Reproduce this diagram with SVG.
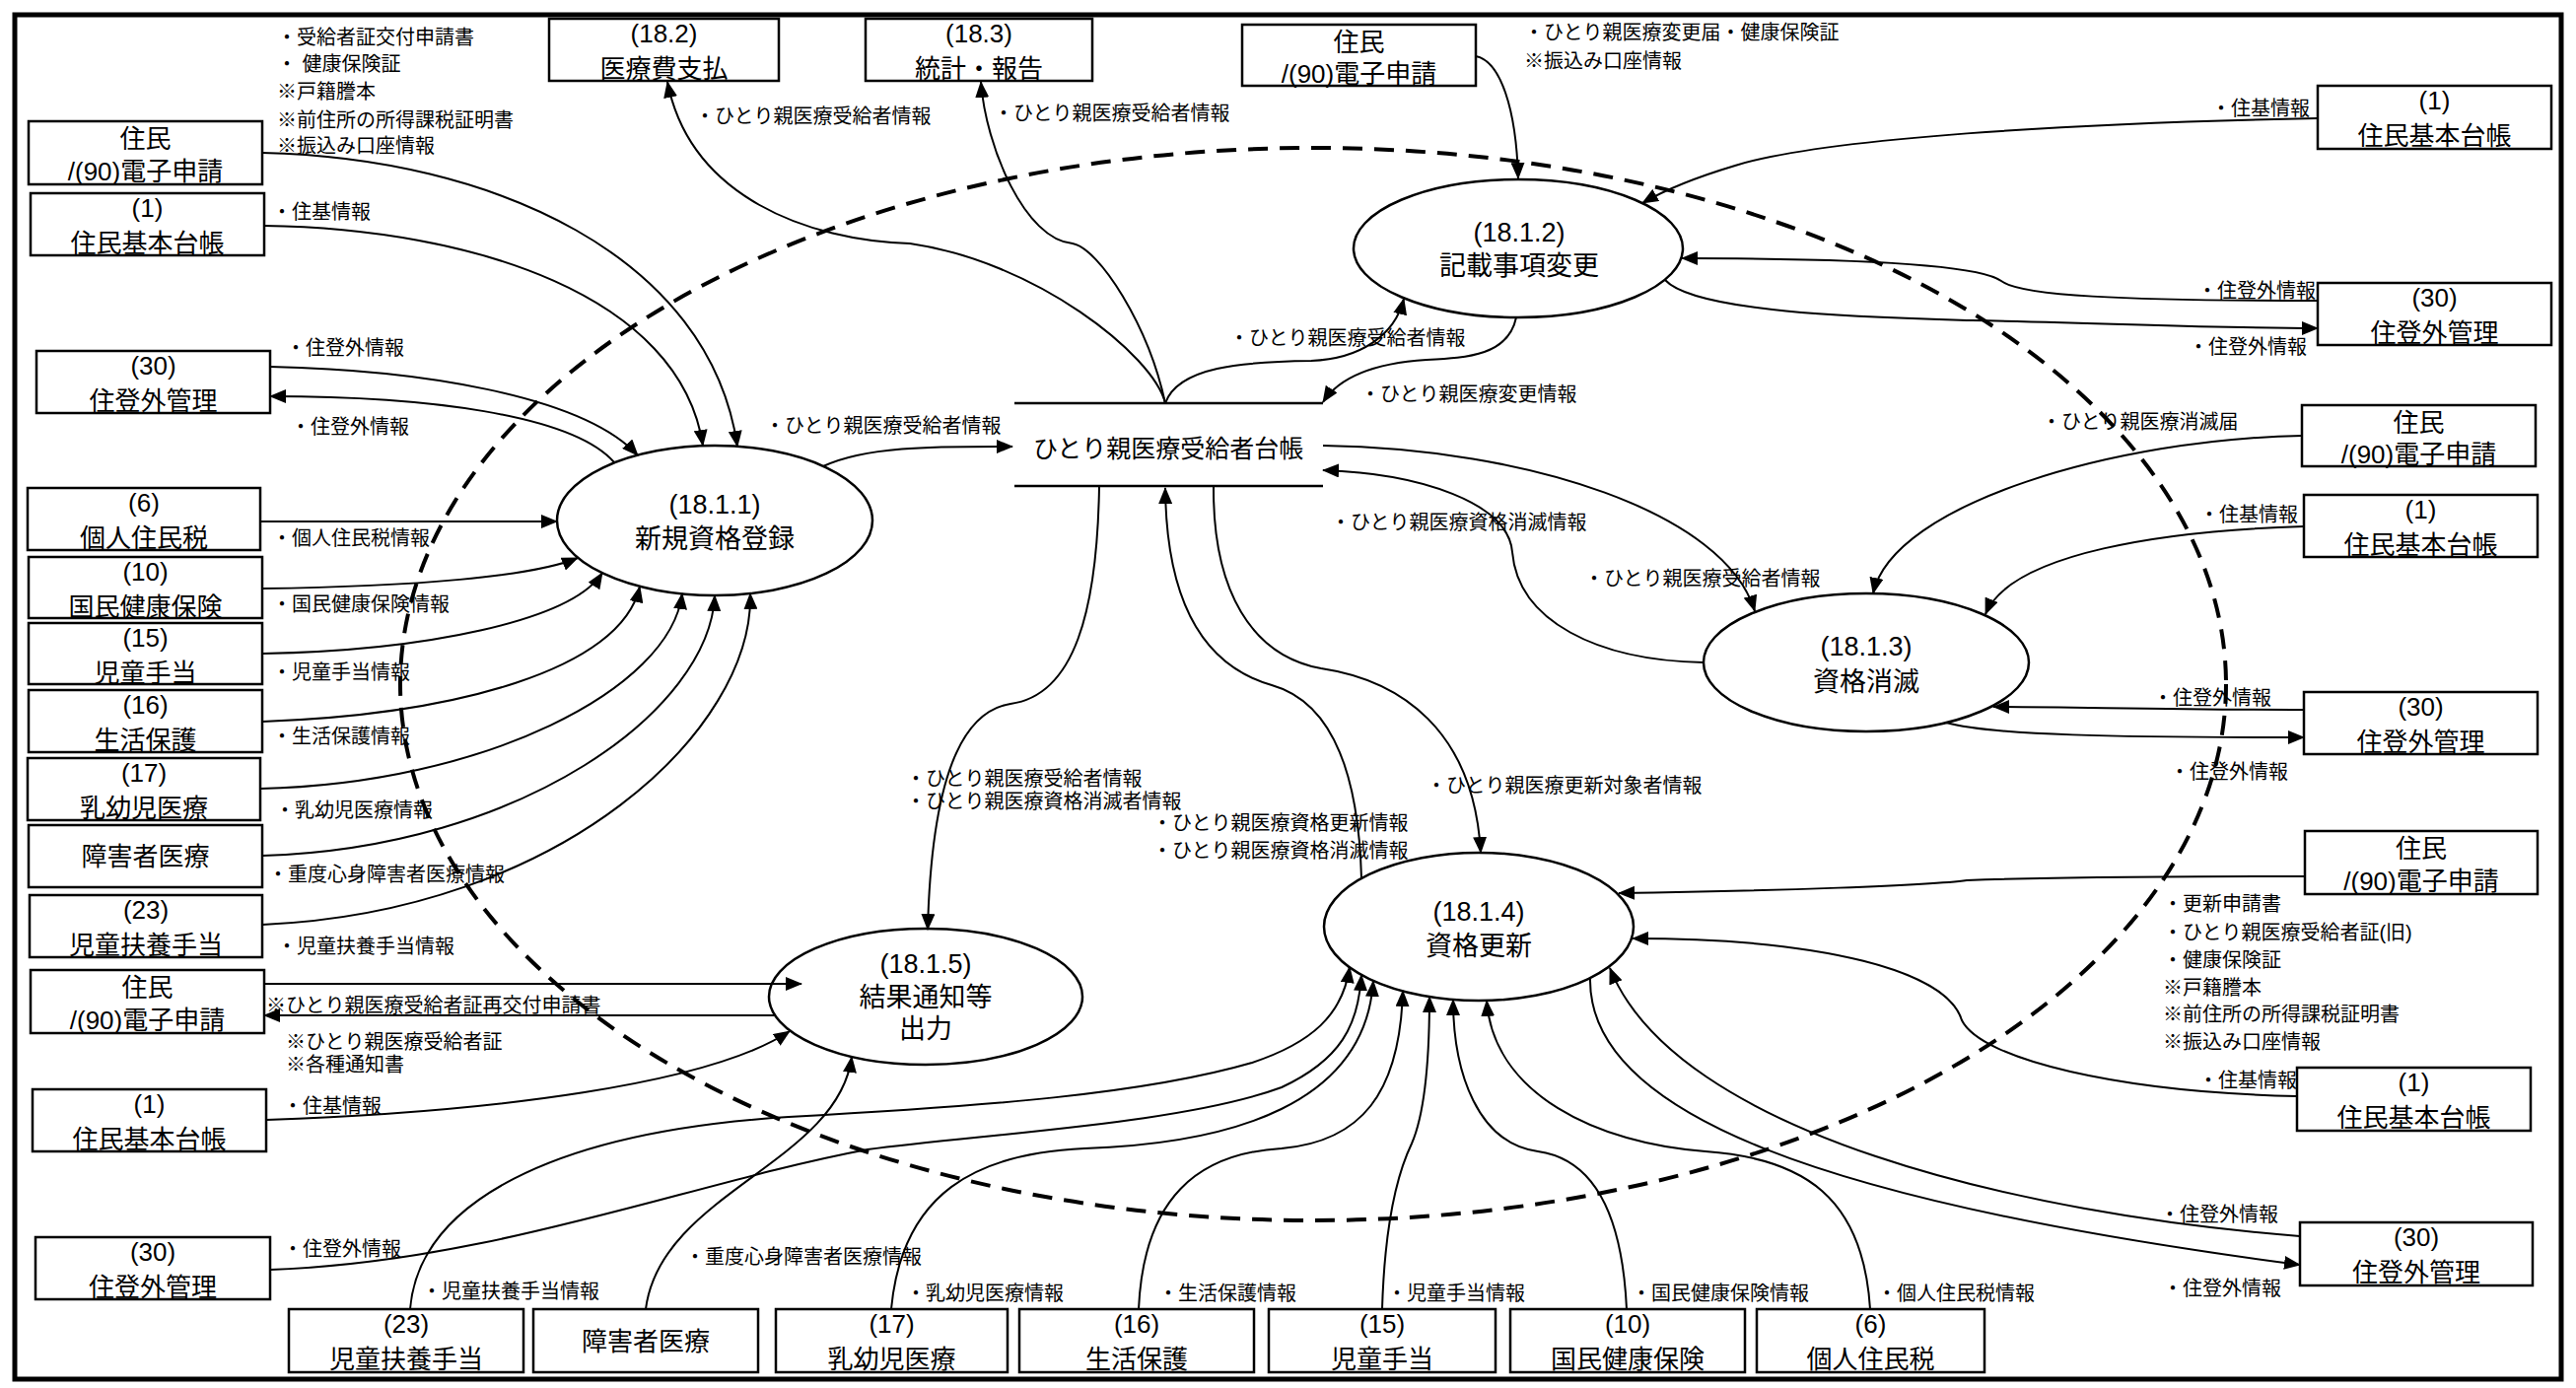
<svg xmlns="http://www.w3.org/2000/svg" width="2613" height="1408" viewBox="0 0 2613 1408">
<defs>
<style>
text{font-family:"Liberation Sans","Noto Sans CJK JP",sans-serif;fill:#000}
.bx{fill:#fff;stroke:#000;stroke-width:2.5}
.pr{fill:#fff;stroke:#000;stroke-width:2.5}
.bt{font-size:26px;text-anchor:middle}
.pt{font-size:27px;text-anchor:middle}
.lb{font-size:20px}
.fl{fill:none;stroke:#000;stroke-width:2}
.ar{marker-end:url(#ah)}
.ds{fill:none;stroke:#000;stroke-width:2.5}
</style>
<marker id="ah" markerUnits="userSpaceOnUse" markerWidth="17" markerHeight="14" viewBox="0 0 17 14" refX="16" refY="7" orient="auto"><path d="M0,0 L17,7 L0,14 z" fill="#000"/></marker>
</defs>
<rect x="0" y="0" width="2613" height="1408" fill="#fff"/>
<rect x="15" y="15" width="2583" height="1384" fill="none" stroke="#000" stroke-width="5"/>
<g id="boundary"><ellipse cx="1332" cy="694" rx="926" ry="544" fill="none" stroke="#000" stroke-width="4" stroke-dasharray="20 12"/></g>

<g id="n-jumin1" class="node"><rect class="bx" x="29" y="123" width="237" height="64"/><text class="bt" x="147.5" y="150">住民</text><text class="bt" x="147.5" y="183">/(90)電子申請</text></g>
<g id="n-juki1" class="node"><rect class="bx" x="31" y="196" width="237" height="63"/><text class="bt" x="149.5" y="220">(1)</text><text class="bt" x="149.5" y="256">住民基本台帳</text></g>
<g id="n-jutogai1" class="node"><rect class="bx" x="37" y="356" width="237" height="63"/><text class="bt" x="155.5" y="380">(30)</text><text class="bt" x="155.5" y="416">住登外管理</text></g>
<g id="n-kojin1" class="node"><rect class="bx" x="28" y="495" width="236" height="63"/><text class="bt" x="146" y="519">(6)</text><text class="bt" x="146" y="555">個人住民税</text></g>
<g id="n-kokuho1" class="node"><rect class="bx" x="29" y="565" width="237" height="62"/><text class="bt" x="147.5" y="589">(10)</text><text class="bt" x="147.5" y="625">国民健康保険</text></g>
<g id="n-jido1" class="node"><rect class="bx" x="29" y="632" width="237" height="62"/><text class="bt" x="147.5" y="656">(15)</text><text class="bt" x="147.5" y="692">児童手当</text></g>
<g id="n-seikatsu1" class="node"><rect class="bx" x="29" y="700" width="237" height="63"/><text class="bt" x="147.5" y="724">(16)</text><text class="bt" x="147.5" y="760">生活保護</text></g>
<g id="n-nyuyoji1" class="node"><rect class="bx" x="28" y="769" width="236" height="63"/><text class="bt" x="146" y="793">(17)</text><text class="bt" x="146" y="829">乳幼児医療</text></g>
<g id="n-shogai1" class="node"><rect class="bx" x="29" y="837" width="237" height="63"/><text class="bt" x="147.5" y="878">障害者医療</text></g>
<g id="n-fuyo1" class="node"><rect class="bx" x="30" y="908" width="236" height="63"/><text class="bt" x="148" y="932">(23)</text><text class="bt" x="148" y="968">児童扶養手当</text></g>
<g id="n-jumin2" class="node"><rect class="bx" x="31" y="984" width="237" height="64"/><text class="bt" x="149.5" y="1011">住民</text><text class="bt" x="149.5" y="1044">/(90)電子申請</text></g>
<g id="n-juki2" class="node"><rect class="bx" x="33" y="1105" width="237" height="63"/><text class="bt" x="151.5" y="1129">(1)</text><text class="bt" x="151.5" y="1165">住民基本台帳</text></g>
<g id="n-jutogai2" class="node"><rect class="bx" x="36" y="1255" width="238" height="63"/><text class="bt" x="155" y="1279">(30)</text><text class="bt" x="155" y="1315">住登外管理</text></g>

<g id="n-iryohi" class="node"><rect class="bx" x="557" y="19" width="233" height="63"/><text class="bt" x="673.5" y="43">(18.2)</text><text class="bt" x="673.5" y="79">医療費支払</text></g>
<g id="n-tokei" class="node"><rect class="bx" x="878" y="19" width="230" height="63"/><text class="bt" x="993" y="43">(18.3)</text><text class="bt" x="993" y="79">統計・報告</text></g>
<g id="n-jumin3" class="node"><rect class="bx" x="1260" y="25" width="237" height="62"/><text class="bt" x="1378.5" y="52">住民</text><text class="bt" x="1378.5" y="84">/(90)電子申請</text></g>

<g id="n-juki3" class="node"><rect class="bx" x="2351" y="87" width="237" height="64"/><text class="bt" x="2469.5" y="111">(1)</text><text class="bt" x="2469.5" y="147">住民基本台帳</text></g>
<g id="n-jutogai3" class="node"><rect class="bx" x="2351" y="287" width="237" height="63"/><text class="bt" x="2469.5" y="311">(30)</text><text class="bt" x="2469.5" y="347">住登外管理</text></g>
<g id="n-jumin4" class="node"><rect class="bx" x="2335" y="411" width="237" height="62"/><text class="bt" x="2453.5" y="438">住民</text><text class="bt" x="2453.5" y="470">/(90)電子申請</text></g>
<g id="n-juki4" class="node"><rect class="bx" x="2337" y="502" width="237" height="63"/><text class="bt" x="2455.5" y="526">(1)</text><text class="bt" x="2455.5" y="562">住民基本台帳</text></g>
<g id="n-jutogai4" class="node"><rect class="bx" x="2337" y="702" width="237" height="63"/><text class="bt" x="2455.5" y="726">(30)</text><text class="bt" x="2455.5" y="762">住登外管理</text></g>
<g id="n-jumin5" class="node"><rect class="bx" x="2338" y="843" width="236" height="64"/><text class="bt" x="2456" y="870">住民</text><text class="bt" x="2456" y="903">/(90)電子申請</text></g>
<g id="n-juki5" class="node"><rect class="bx" x="2330" y="1083" width="237" height="64"/><text class="bt" x="2448.5" y="1107">(1)</text><text class="bt" x="2448.5" y="1143">住民基本台帳</text></g>
<g id="n-jutogai5" class="node"><rect class="bx" x="2333" y="1240" width="236" height="64"/><text class="bt" x="2451" y="1264">(30)</text><text class="bt" x="2451" y="1300">住登外管理</text></g>

<g id="n-fuyo2" class="node"><rect class="bx" x="293" y="1328" width="238" height="64"/><text class="bt" x="412" y="1352">(23)</text><text class="bt" x="412" y="1388">児童扶養手当</text></g>
<g id="n-shogai2" class="node"><rect class="bx" x="541" y="1328" width="228" height="64"/><text class="bt" x="655" y="1370">障害者医療</text></g>
<g id="n-nyuyoji2" class="node"><rect class="bx" x="787" y="1328" width="235" height="64"/><text class="bt" x="904.5" y="1352">(17)</text><text class="bt" x="904.5" y="1388">乳幼児医療</text></g>
<g id="n-seikatsu2" class="node"><rect class="bx" x="1034" y="1328" width="238" height="64"/><text class="bt" x="1153" y="1352">(16)</text><text class="bt" x="1153" y="1388">生活保護</text></g>
<g id="n-jido2" class="node"><rect class="bx" x="1287" y="1328" width="230" height="64"/><text class="bt" x="1402" y="1352">(15)</text><text class="bt" x="1402" y="1388">児童手当</text></g>
<g id="n-kokuho2" class="node"><rect class="bx" x="1532" y="1328" width="238" height="64"/><text class="bt" x="1651" y="1352">(10)</text><text class="bt" x="1651" y="1388">国民健康保険</text></g>
<g id="n-kojin2" class="node"><rect class="bx" x="1782" y="1328" width="231" height="64"/><text class="bt" x="1897.5" y="1352">(6)</text><text class="bt" x="1897.5" y="1388">個人住民税</text></g>

<g id="p-18-1-1" class="node"><ellipse class="pr" cx="725" cy="528" rx="160" ry="76"/><text class="pt" x="725" y="521">(18.1.1)</text><text class="pt" x="725" y="556">新規資格登録</text></g>
<g id="p-18-1-2" class="node"><ellipse class="pr" cx="1540" cy="252" rx="167" ry="70"/><text class="pt" x="1541" y="245">(18.1.2)</text><text class="pt" x="1541" y="279">記載事項変更</text></g>
<g id="p-18-1-3" class="node"><ellipse class="pr" cx="1893" cy="672" rx="165" ry="70"/><text class="pt" x="1893" y="665">(18.1.3)</text><text class="pt" x="1893" y="701">資格消滅</text></g>
<g id="p-18-1-4" class="node"><ellipse class="pr" cx="1500" cy="940" rx="157" ry="75"/><text class="pt" x="1500" y="934">(18.1.4)</text><text class="pt" x="1500" y="969">資格更新</text></g>
<g id="p-18-1-5" class="node"><ellipse class="pr" cx="939" cy="1011" rx="159" ry="69"/><text class="pt" x="939" y="987">(18.1.5)</text><text class="pt" x="939" y="1021">結果通知等</text><text class="pt" x="939" y="1053">出力</text></g>
<g id="d-daicho" class="node"><line class="ds" x1="1029" y1="409" x2="1342" y2="409"/><line class="ds" x1="1029" y1="493" x2="1342" y2="493"/><text x="1048" y="464" style="font-size:25px">ひとり親医療受給者台帳</text></g>

<g id="connectors">
<path class="fl ar" d="M266,155 C500,160 720,260 748,453"/>
<path class="fl ar" d="M268,229 C480,232 690,300 713,452"/>
<path class="fl ar" d="M274,372 C420,375 590,400 647,462"/>
<path class="fl ar" d="M623,469 C580,420 430,402 274,402"/>
<path class="fl ar" d="M264,529 L565,529"/>
<path class="fl ar" d="M266,597 C420,595 540,585 586,566"/>
<path class="fl ar" d="M266,663 C430,660 580,630 611,581"/>
<path class="fl ar" d="M266,732 C460,725 630,680 649,595"/>
<path class="fl ar" d="M264,800 C490,795 680,700 692,602"/>
<path class="fl ar" d="M266,868 C530,860 720,720 725,604"/>
<path class="fl ar" d="M266,938 C570,925 765,740 761,602"/>
<path class="fl ar" d="M835,473 C880,452 950,453 1027,453"/>
<path class="fl ar" d="M1182,409 C1170,360 1050,265 923,247 C820,244 700,200 677,83"/>
<path class="fl ar" d="M1182,409 C1165,330 1115,252 1088,247 C1040,243 1000,150 995,83"/>
<path class="fl ar" d="M1182,409 C1195,372 1260,367 1330,366 C1380,364 1415,340 1424,303"/>
<path class="fl ar" d="M1538,322 C1530,360 1490,363 1447,365 C1400,368 1360,380 1342,408"/>
<path class="fl ar" d="M1497,57 C1522,62 1538,110 1540,181"/>
<path class="fl ar" d="M2351,120 C2100,125 1850,140 1760,168 C1720,180 1690,192 1666,206"/>
<path class="fl ar" d="M2351,305 C2150,305 2050,300 2030,285 C2010,270 1900,262 1706,262"/>
<path class="fl ar" d="M1689,284 C1720,318 1900,322 2000,325 C2150,328 2250,333 2351,333"/>
<path class="fl ar" d="M1342,452 C1550,455 1750,520 1780,620"/>
<path class="fl ar" d="M1728,672 C1620,670 1540,630 1534,560 C1530,510 1440,480 1342,477"/>
<path class="fl ar" d="M2335,442 C2150,445 1920,510 1900,602"/>
<path class="fl ar" d="M2337,534 C2200,538 2040,560 2014,623"/>
<path class="fl ar" d="M2337,720 C2200,720 2100,717 2022,717"/>
<path class="fl ar" d="M1974,733 C2020,746 2150,748 2337,748"/>
<path class="fl ar" d="M1115,493 C1113,620 1090,705 1025,714 C975,722 945,790 941,943"/>
<path class="fl ar" d="M1381,891 C1378,780 1350,712 1290,695 C1220,675 1183,610 1182,495"/>
<path class="fl ar" d="M1231,493 C1230,600 1270,665 1340,678 C1420,690 1495,740 1502,865"/>
<path class="fl ar" d="M2338,889 C2200,889 2050,891 1995,893 C1960,898 1800,904 1642,906"/>
<path class="fl ar" d="M2330,1112 C2150,1108 2010,1075 1990,1035 C1975,985 1850,952 1656,952"/>
<path class="fl ar" d="M2333,1254 C2050,1232 1700,1150 1633,982"/>
<path class="fl ar" d="M1613,992 C1610,1130 1850,1220 2333,1283"/>
<path class="fl ar" d="M416,1328 C425,1220 560,1148 800,1133 C1000,1122 1160,1110 1270,1078 C1330,1058 1362,1030 1369,981"/>
<path class="fl ar" d="M274,1288 C500,1280 700,1200 880,1166 C1000,1150 1200,1140 1300,1103 C1360,1075 1378,1040 1381,989"/>
<path class="fl ar" d="M904,1328 C915,1210 990,1170 1100,1165 C1250,1160 1385,1120 1393,995"/>
<path class="fl ar" d="M1155,1328 C1160,1215 1215,1170 1300,1165 C1380,1158 1420,1110 1423,1005"/>
<path class="fl ar" d="M1402,1328 C1405,1230 1420,1185 1432,1160 C1445,1130 1450,1080 1450,1011"/>
<path class="fl ar" d="M1650,1328 C1645,1220 1610,1175 1560,1168 C1500,1160 1474,1090 1474,1014"/>
<path class="fl ar" d="M1897,1328 C1890,1215 1830,1175 1730,1168 C1620,1160 1515,1110 1508,1015"/>
<path class="fl ar" d="M655,1328 C670,1210 850,1180 864,1072"/>
<path class="fl ar" d="M268,998 L813,998"/>
<path class="fl ar" d="M786,1030 L268,1030"/>
<path class="fl ar" d="M270,1136 C500,1128 720,1100 801,1046"/>

<text class="lb" x="281" y="45">・受給者証交付申請書</text>
<text class="lb" x="281" y="72">・ 健康保険証</text>
<text class="lb" x="281" y="100">※戸籍謄本</text>
<text class="lb" x="281" y="129">※前住所の所得課税証明書</text>
<text class="lb" x="281" y="155">※振込み口座情報</text>
<text class="lb" x="276" y="222">・住基情報</text>
<text class="lb" x="290" y="360">・住登外情報</text>
<text class="lb" x="295" y="440">・住登外情報</text>
<text class="lb" x="276" y="553">・個人住民税情報</text>
<text class="lb" x="276" y="620">・国民健康保険情報</text>
<text class="lb" x="276" y="689">・児童手当情報</text>
<text class="lb" x="276" y="754">・生活保護情報</text>
<text class="lb" x="279" y="829">・乳幼児医療情報</text>
<text class="lb" x="272" y="894">・重度心身障害者医療情報</text>
<text class="lb" x="281" y="967">・児童扶養手当情報</text>
<text class="lb" x="270" y="1027">※ひとり親医療受給者証再交付申請書</text>
<text class="lb" x="290" y="1064">※ひとり親医療受給者証</text>
<text class="lb" x="290" y="1087">※各種通知書</text>
<text class="lb" x="287" y="1129">・住基情報</text>
<text class="lb" x="287" y="1274">・住登外情報</text>
<text class="lb" x="428" y="1317">・児童扶養手当情報</text>
<text class="lb" x="695" y="1282">・重度心身障害者医療情報</text>
<text class="lb" x="919" y="1319">・乳幼児医療情報</text>
<text class="lb" x="1175" y="1319">・生活保護情報</text>
<text class="lb" x="1407" y="1319">・児童手当情報</text>
<text class="lb" x="1655" y="1319">・国民健康保険情報</text>
<text class="lb" x="1904" y="1319">・個人住民税情報</text>
<text class="lb" x="705" y="125">・ひとり親医療受給者情報</text>
<text class="lb" x="1008" y="122">・ひとり親医療受給者情報</text>
<text class="lb" x="776" y="439">・ひとり親医療受給者情報</text>
<text class="lb" x="1546" y="40">・ひとり親医療変更届・健康保険証</text>
<text class="lb" x="1546" y="69">※振込み口座情報</text>
<text class="lb" x="1247" y="350">・ひとり親医療受給者情報</text>
<text class="lb" x="1380" y="407">・ひとり親医療変更情報</text>
<text class="lb" x="2243" y="117">・住基情報</text>
<text class="lb" x="2229" y="302">・住登外情報</text>
<text class="lb" x="2220" y="359">・住登外情報</text>
<text class="lb" x="2071" y="435">・ひとり親医療消滅届</text>
<text class="lb" x="2231" y="529">・住基情報</text>
<text class="lb" x="2184" y="715">・住登外情報</text>
<text class="lb" x="2201" y="790">・住登外情報</text>
<text class="lb" x="1350" y="537">・ひとり親医療資格消滅情報</text>
<text class="lb" x="1607" y="594">・ひとり親医療受給者情報</text>
<text class="lb" x="919" y="797">・ひとり親医療受給者情報</text>
<text class="lb" x="919" y="820">・ひとり親医療資格消滅者情報</text>
<text class="lb" x="1447" y="804">・ひとり親医療更新対象者情報</text>
<text class="lb" x="1169" y="842">・ひとり親医療資格更新情報</text>
<text class="lb" x="1169" y="870">・ひとり親医療資格消滅情報</text>
<text class="lb" x="2194" y="924">・更新申請書</text>
<text class="lb" x="2194" y="953">・ひとり親医療受給者証(旧)</text>
<text class="lb" x="2194" y="981">・健康保険証</text>
<text class="lb" x="2194" y="1009">※戸籍謄本</text>
<text class="lb" x="2194" y="1036">※前住所の所得課税証明書</text>
<text class="lb" x="2194" y="1064">※振込み口座情報</text>
<text class="lb" x="2230" y="1103">・住基情報</text>
<text class="lb" x="2191" y="1239">・住登外情報</text>
<text class="lb" x="2194" y="1314">・住登外情報</text>
</g>
</svg>
